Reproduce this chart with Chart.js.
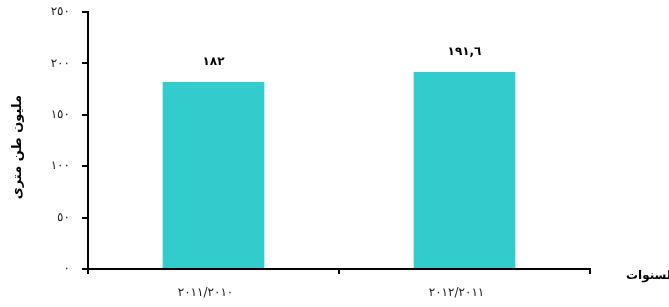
<!DOCTYPE html>
<html><head><meta charset="utf-8">
<script src="https://cdn.jsdelivr.net/npm/chart.js@4/dist/chart.umd.min.js"></script>
<style>html,body{margin:0;padding:0;background:#fff}#w{width:669px;height:307px}</style>
</head><body><div id="w"><canvas id="c"></canvas></div>
<script>
const categories = ["٢٠١١/٢٠١٠", "٢٠١٢/٢٠١١"];
const values = [182, 191.6];
const valueLabels = ["١٨٢", "١٩١,٦"];
const yTickLabels = {0:"٠",50:"٥٠",100:"١٠٠",150:"١٥٠",200:"٢٠٠",250:"٢٥٠"};
const yTitle = "مليون طن مترى";
const xTitle = "السنوات";

const font = "'DejaVu Sans', 'Noto Sans', sans-serif";
const extras = {
  id: 'extras',
  afterDatasetsDraw(chart) {
    const ctx = chart.ctx;
    const meta = chart.getDatasetMeta(0);
    ctx.save();
    ctx.fillStyle = '#000';
    ctx.font = "bold 12px " + font;
    ctx.textAlign = 'center';
    ctx.textBaseline = 'middle';
    meta.data.forEach((bar, i) => {
      ctx.fillText(valueLabels[i], bar.x, bar.y - 20);
    });
    ctx.font = "bold 12px " + font;
    ctx.textAlign = 'left';
    ctx.fillText(xTitle, chart.chartArea.right + 36, chart.chartArea.bottom + 7);
    ctx.font = "bold 13px " + font;
    ctx.translate(18, 147);
    ctx.rotate(-Math.PI / 2);
    ctx.textAlign = 'center';
    ctx.fillText(yTitle, 0, 0);
    ctx.restore();
  }
};

new Chart(document.getElementById('c'), {
  type: 'bar',
  data: { labels: categories, datasets: [{ data: values, backgroundColor: '#33CCCC', barPercentage: 0.81, categoryPercentage: 0.5 }] },
  options: {
    responsive: true, maintainAspectRatio: false, animation: false,
    layout: { padding: { top: 12, right: 79, left: 0, bottom: 0 } },
    plugins: { legend: { display: false }, tooltip: { enabled: false } },
    scales: {
      x: {
        afterFit(s) { s.height = 38; s.paddingLeft = 0; s.paddingRight = 0; },
        border: { color: '#000', width: 2 },
        grid: { drawOnChartArea: false, color: '#000', lineWidth: 2, tickLength: 5, offset: true },
        ticks: { color: '#222', font: { family: font, size: 12 }, padding: 12, labelOffset: -8, maxRotation: 0 }
      },
      y: {
        min: 0, max: 250,
        afterFit(s) { s.width = 88; s.paddingTop = 0; s.paddingBottom = 0; },
        border: { color: '#000', width: 2 },
        grid: { drawOnChartArea: false, color: '#000', lineWidth: 2, tickLength: 6 },
        ticks: { stepSize: 50, color: '#222', font: { family: font, size: 12 }, padding: 12,
          callback: v => yTickLabels[v] }
      }
    }
  },
  plugins: [extras]
});
</script></body></html>
